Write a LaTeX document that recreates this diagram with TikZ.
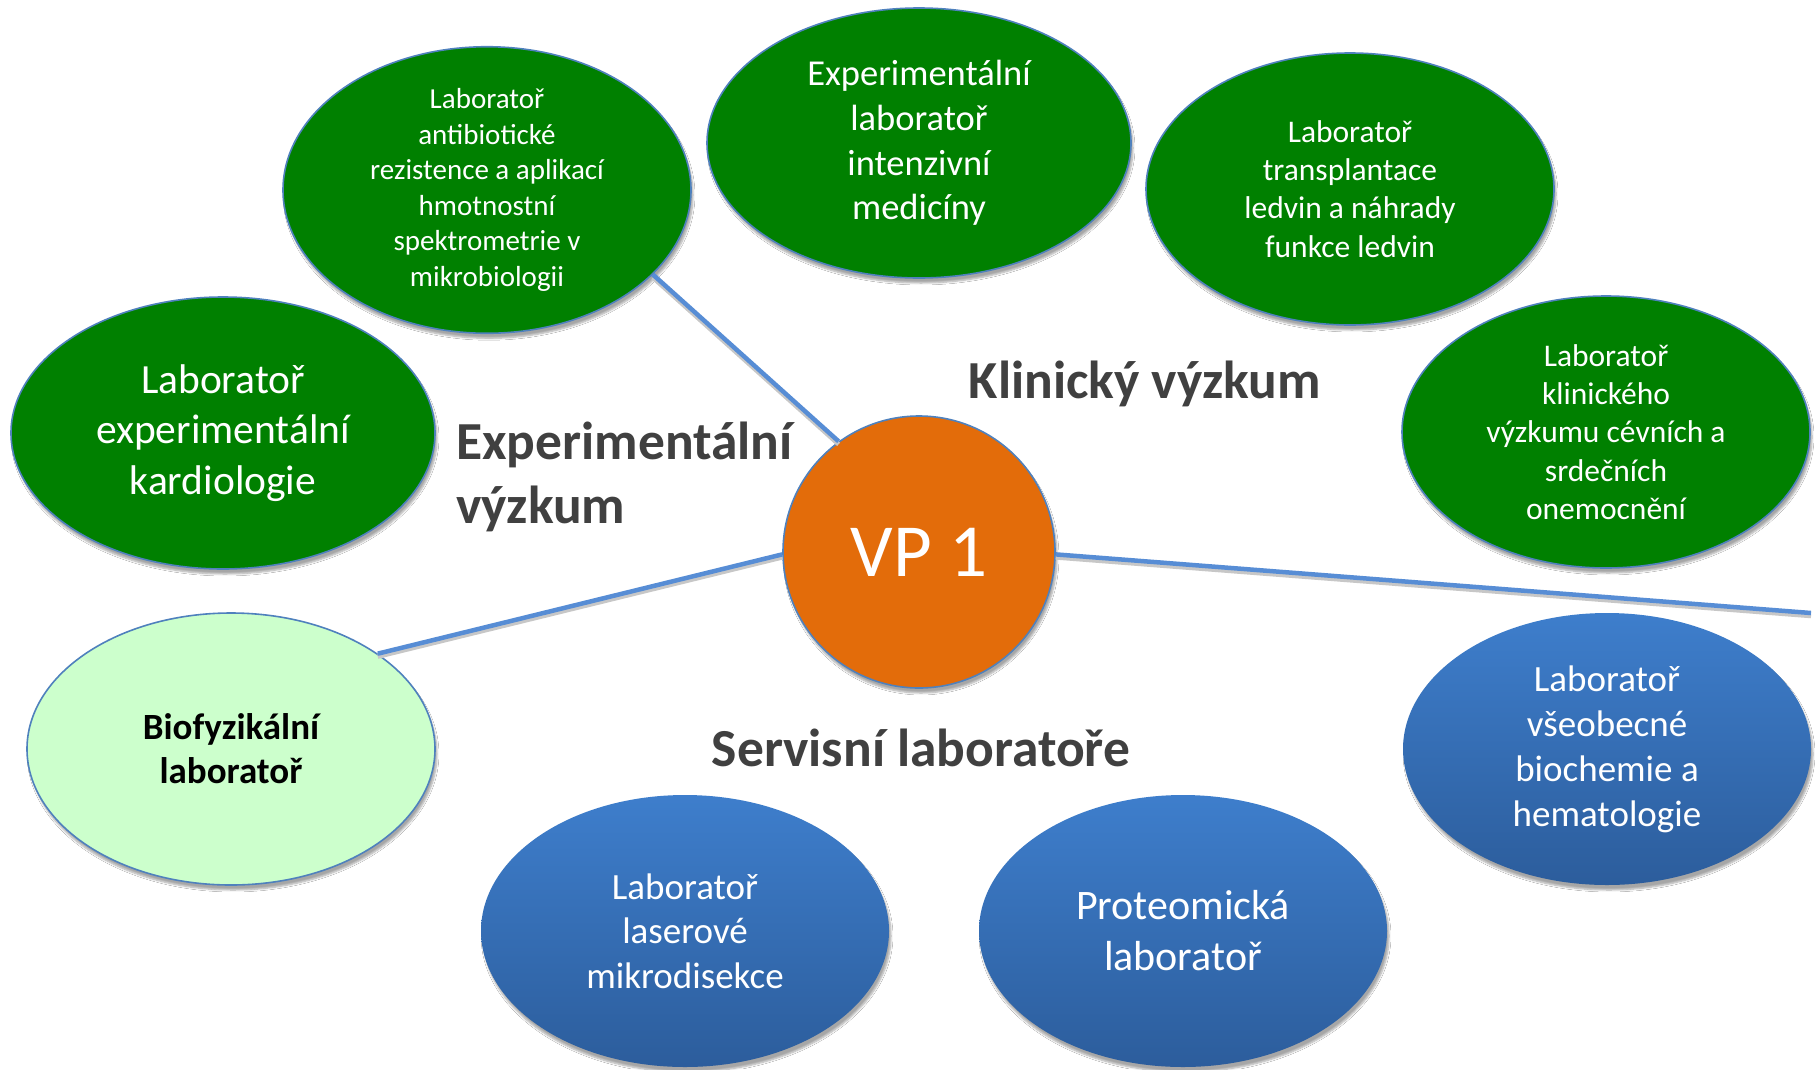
\documentclass[tikz,border=0pt]{standalone}
\usepackage{fontspec}
\setmainfont{Carlito}
\usetikzlibrary{shapes.geometric,shadows.blur}
\definecolor{labgreen}{RGB}{0,128,0}
\definecolor{lightlab}{RGB}{204,255,204}
\definecolor{rimblue}{RGB}{79,129,189}
\definecolor{linkblue}{RGB}{87,141,213}
\definecolor{topblue}{RGB}{62,126,204}
\definecolor{botblue}{RGB}{44,93,156}
\definecolor{vporange}{RGB}{227,108,10}
\definecolor{headgray}{RGB}{64,64,64}
\newcommand{\fsz}[2]{\fontsize{#1}{#2}\selectfont}
\tikzset{
  lab/.style={ellipse, draw=rimblue, line width=1.6pt, minimum width=408pt,
    minimum height=272pt, inner sep=0pt, align=center, text=white,
    blur shadow={shadow xshift=2pt, shadow yshift=-5pt, shadow blur steps=6, shadow opacity=35}},
  greenlab/.style={lab, fill=labgreen},
  bluelab/.style={lab, draw=none, top color=topblue, bottom color=botblue},
  head/.style={text=headgray, font=\bfseries\fsz{53.5}{64}, inner sep=0pt},
  link/.style={draw=linkblue, line width=4.5pt,
    preaction={draw=black!22, line width=4.5pt, transform canvas={yshift=-3pt}}}
}
\begin{document}
\begin{tikzpicture}[x=1pt, y=-1pt]
\useasboundingbox[fill=white] (0,0) rectangle (1820,1069);
% green labs
\node[greenlab, font=\fsz{29}{35.5}] (anti) at (487,190){Laboratoř\\antibiotické\\rezistence a aplikací\\hmotnostní\\spektrometrie v\\mikrobiologii};
\node[greenlab, minimum width=424pt, minimum height=270pt, font=\fsz{36.5}{44.7}] (intenz) at (919,143){Experimentální\\laboratoř\\intenzivní\\medicíny};
\node[greenlab, font=\fsz{31.5}{38.3}] (transpl) at (1350,189){Laboratoř\\transplantace\\ledvin a náhrady\\funkce ledvin};
\node[greenlab, font=\fsz{31.5}{38.3}] (cevni) at (1606,432){Laboratoř\\klinického\\výzkumu cévních a\\srdečních\\onemocnění};
\node[greenlab, minimum width=424pt, font=\fsz{41.5}{50.5}] (kardio) at (223,433){Laboratoř\\experimentální\\kardiologie};
% servis labs
\node[lab, fill=lightlab, text=black, font=\bfseries\fsz{37}{44}] (biofyz) at (231,749){Biofyzikální\\laboratoř};
\node[bluelab, font=\fsz{37}{45}] (biochem) at (1607,749){Laboratoř\\všeobecné\\biochemie a\\hematologie};
\node[bluelab, font=\fsz{37}{44.7}] (laser) at (685,931){Laboratoř\\laserové\\mikrodisekce};
\node[bluelab, font=\fsz{42}{51}] (proteo) at (1183,931){Proteomická\\laboratoř};
% centre
\node[circle, draw=rimblue, line width=1.6pt, fill=vporange, minimum size=272pt, inner sep=0pt,
  text=white, font=\fsz{75}{80},
  blur shadow={shadow xshift=2pt, shadow yshift=-5pt, shadow blur steps=6, shadow opacity=35}] (vp) at (919,552){VP 1};
% headings
\node[head, anchor=west, align=left] (hexp) at (456,477){Experimentální\\výzkum};
\node[head] (hklin) at (1145,384){Klinický výzkum};
\node[head] (hserv) at (921,748){Servisní laboratoře};
% connectors
\coordinate (rend) at (1811,613);
\draw[link] (anti.-27) -- (vp.126.6);
\draw[link] (biofyz.33) -- (vp.181);
\draw[link] (vp.-1) -- (rend);
\end{tikzpicture}
\end{document}
